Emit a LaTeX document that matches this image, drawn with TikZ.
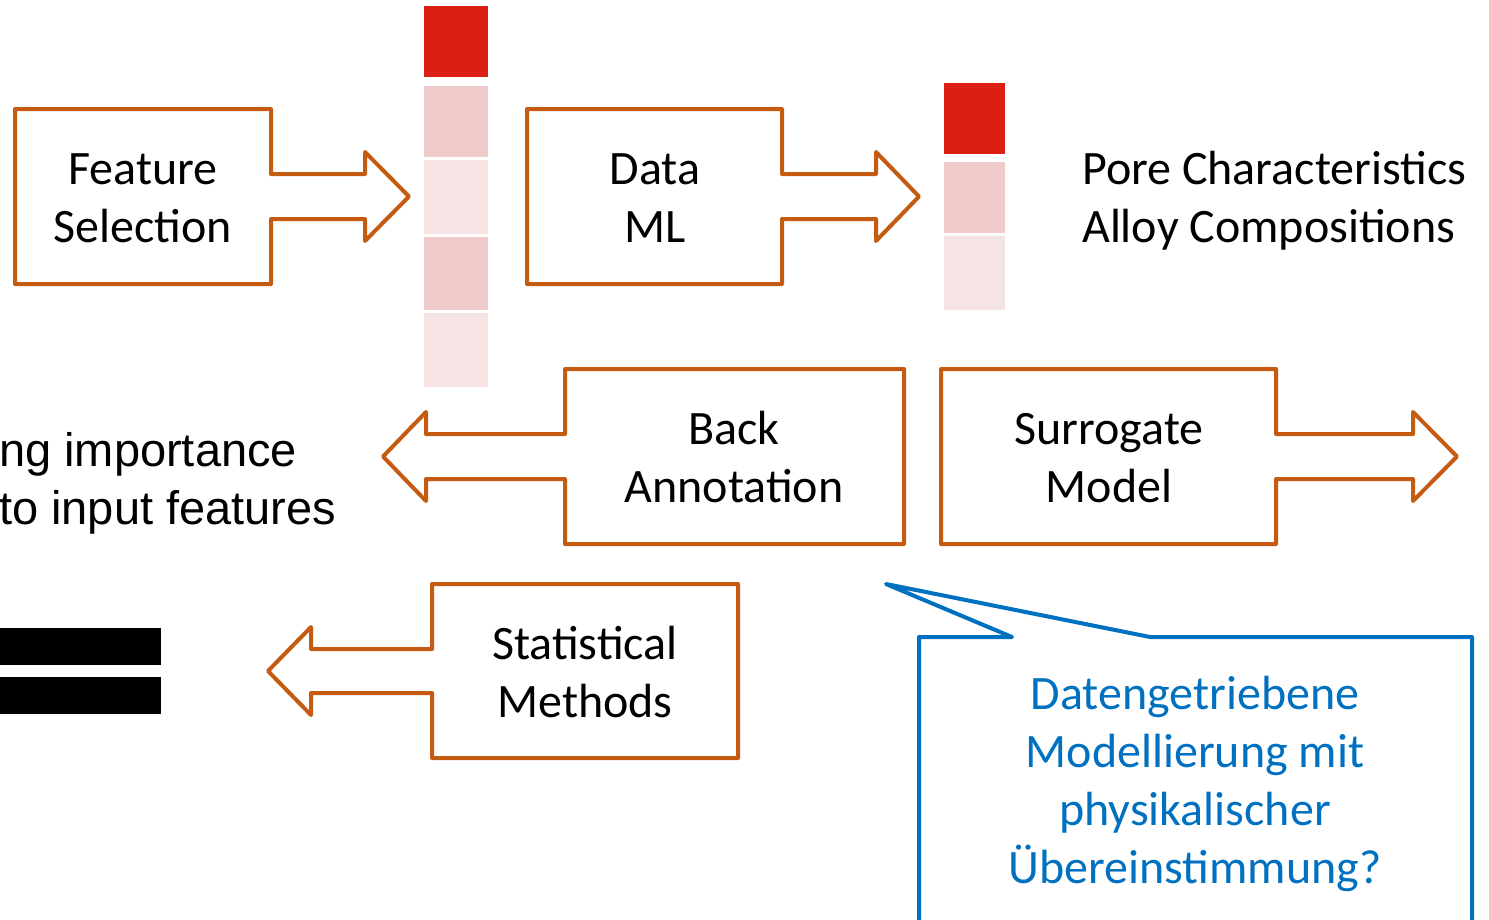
\documentclass[tikz,border=0pt]{standalone}
\usepackage{fontspec}
\setmainfont{Carlito}
\newfontfamily\arialfont{Liberation Sans}
\definecolor{arrowor}{HTML}{C55A11}
\definecolor{callblue}{HTML}{0070C0}
\definecolor{barred}{HTML}{DA2014}
\definecolor{barpink}{HTML}{F0CBCB}
\definecolor{barlight}{HTML}{F6E4E4}
\tikzset{
  blockarrow/.style={draw=arrowor, line width=4pt, line join=round},
  lbl/.style={font=\fontsize{48}{58}\selectfont, align=center, inner sep=0pt},
  sidetext/.style={font=\fontsize{48}{58}\selectfont, align=left, inner sep=0pt, anchor=west},
  calloutline/.style={draw=callblue, line width=4pt, line join=round},
}
\begin{document}
\begin{tikzpicture}[x=1pt,y=-1pt]
\useasboundingbox (0,0) rectangle (1489,919);

% Feature Selection
\draw[blockarrow] (15,109) -- (271,109) -- (271,174) -- (365,174) -- (365,152) -- (409,196.5) -- (365,241) -- (365,219) -- (271,219) -- (271,284) -- (15,284) -- cycle;
\node[lbl] (fs) at (143,198.5) {Feature\\Selection};

% Bar 1
\fill[barred]   (424,6)   rectangle (488,77);
\fill[barpink]  (424,86)  rectangle (488,157);
\fill[barlight] (424,160) rectangle (488,234);
\fill[barpink]  (424,237) rectangle (488,310);
\fill[barlight] (424,313) rectangle (488,387);

% Data ML
\draw[blockarrow] (527,109) -- (782,109) -- (782,174) -- (876,174) -- (876,152) -- (919,196.5) -- (876,241) -- (876,219) -- (782,219) -- (782,284) -- (527,284) -- cycle;
\node[lbl] (dm) at (655,198) {Data\\ML};

% Bar 2
\fill[barred]   (944,83)  rectangle (1005,154);
\fill[barpink]  (944,162) rectangle (1005,233);
\fill[barlight] (944,236) rectangle (1005,310);

\node[sidetext] (pc) at (1082,201) {Pore Characteristics\\Alloy Compositions};

% Back Annotation
\draw[blockarrow] (904,369) -- (565,369) -- (565,434) -- (426,434) -- (426,412) -- (383,456.5) -- (426,501) -- (426,479) -- (565,479) -- (565,544) -- (904,544) -- cycle;
\node[lbl] (ba) at (734,457) {Back\\Annotation};

% Surrogate Model
\draw[blockarrow] (941,369) -- (1276,369) -- (1276,434) -- (1413,434) -- (1413,412) -- (1457,456.5) -- (1413,501) -- (1413,479) -- (1276,479) -- (1276,544) -- (941,544) -- cycle;
\node[lbl] (sm) at (1109,458) {Surrogate\\Model};

% Statistical Methods
\draw[blockarrow] (738,584) -- (432,584) -- (432,649) -- (311,649) -- (311,627) -- (268,671) -- (311,715) -- (311,693) -- (432,693) -- (432,758) -- (738,758) -- cycle;
\node[lbl] (st) at (585,672.5) {Statistical\\Methods};

% Left text
\node[sidetext, font=\arialfont\fontsize{47}{58}\selectfont] (imp) at (-1,483.5) {ng importance\\to input features};

% Equals sign bars
\fill[black] (0,628) rectangle (161,665);
\fill[black] (0,677) rectangle (161,714);

% Callout
\draw[calloutline] (919,935) -- (919,637) -- (1012,637) -- (886,584) -- (1150,637) -- (1472,637) -- (1472,935);
\node[lbl, text=callblue] (co) at (1195,784) {Datengetriebene\\Modellierung mit\\physikalischer\\Übereinstimmung?};
\end{tikzpicture}
\end{document}
